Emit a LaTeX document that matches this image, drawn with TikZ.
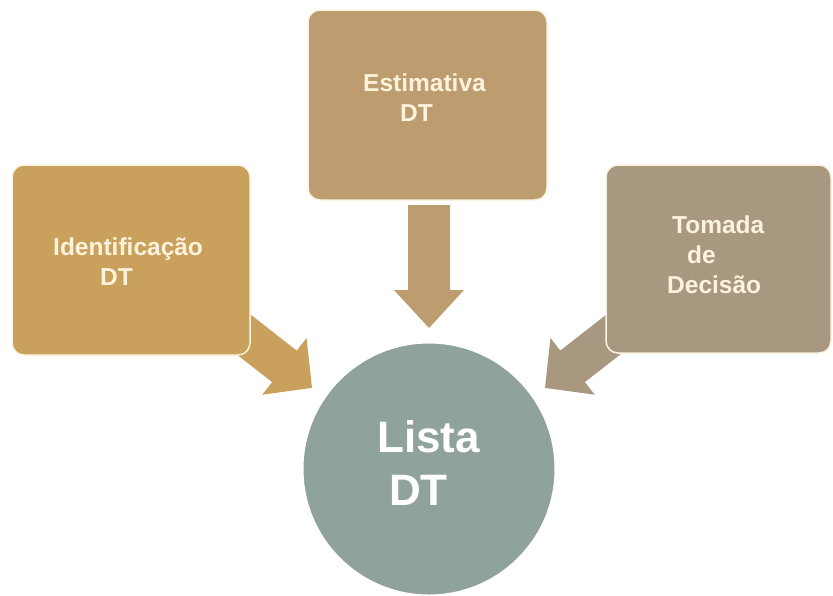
\documentclass[tikz,border=0pt]{standalone}
\usepackage{fontspec}
\setmainfont{Liberation Sans}
\definecolor{goldbox}{HTML}{C9A15C}
\definecolor{tanbox}{HTML}{BD9C6F}
\definecolor{greybox}{HTML}{A89880}
\definecolor{sagecirc}{HTML}{8FA39B}
\definecolor{creamtext}{HTML}{FDF3DC}
\definecolor{creamline}{HTML}{FBF3E2}
\tikzset{
  % block arrow: #1 shaft length, #2 half shaft width, #3 half head width, #4 head length
  pics/blockarrow/.style n args={4}{code={
    \fill (0,-#2) -- (#1,-#2) -- (#1,-#3) -- ({#1+#4},0) -- (#1,#3) -- (#1,#2) -- (0,#2) -- cycle;
  }},
  stepbox/.style={draw=creamline, line width=1.5pt, rounded corners=12pt},
  boxtext/.style={text=creamtext, font=\bfseries\fontsize{24.5}{30}\selectfont,
    align=left, inner sep=0pt, anchor=west},
}
\begin{document}
\begin{tikzpicture}[x=1pt,y=-1pt]
\useasboundingbox (0,0) rectangle (833,595);

% arrows into the list
\coordinate (ltail) at (232.4,325.7);
\coordinate (ttail) at (429,205);
\coordinate (rtail) at (624.6,325.7);
\pic[fill=goldbox, rotate=-38] at (ltail) {blockarrow={66}{20}{36}{35}};
\pic[fill=tanbox, rotate=-90] at (ttail) {blockarrow={85}{21}{35}{38}};
\pic[fill=greybox, rotate=-142] at (rtail) {blockarrow={66}{20}{36}{35}};

% source boxes
\filldraw[stepbox, fill=goldbox] (12,165) rectangle (250,355);
\filldraw[stepbox, fill=tanbox] (308,10) rectangle (547,200);
\filldraw[stepbox, fill=greybox] (606,165) rectangle (831,353);
\node[boxtext] (ident) at (53,262) {Identificação\\\hspace*{47pt}DT};
\node[boxtext] (estim) at (363,97.5) {Estimativa\\\hspace*{37pt}DT};
\node[boxtext] (decis) at (667,255) {\hspace*{5pt}Tomada\\\hspace*{20pt}de\\Decisão};

% target circle
\node[circle, fill=sagecirc, draw=white, line width=1pt, minimum size=252pt, inner sep=0pt] (lista) at (429,469) {};
\node[text=white, font=\bfseries\fontsize{44}{53}\selectfont, align=left, inner sep=0pt, anchor=west]
  (listatext) at (377,463.5) {Lista\\\hspace*{12pt}DT};
\end{tikzpicture}
\end{document}
